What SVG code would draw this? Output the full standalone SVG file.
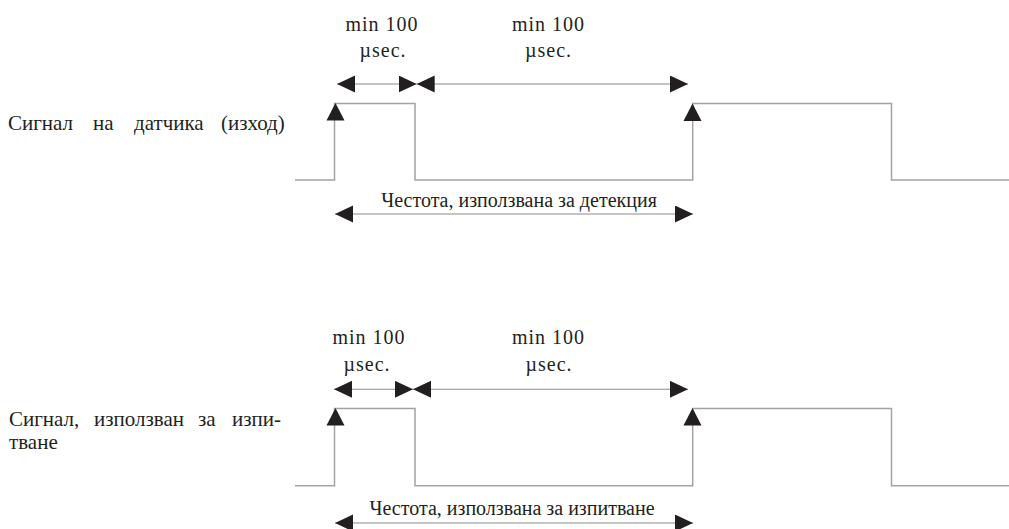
<svg xmlns="http://www.w3.org/2000/svg" width="1009" height="529" viewBox="0 0 1009 529">
<style>
.sig{fill:none;stroke:#a3a3a3;stroke-width:1.5}
.dim{fill:none;stroke:#8c8c8c;stroke-width:1.1}
.lbl{font-family:"Liberation Serif","Times New Roman",serif;font-size:21px;fill:#231f20}
.mn{font-family:"Liberation Serif","Times New Roman",serif;font-size:20px;fill:#231f20;text-anchor:middle;letter-spacing:1px}
.fq{font-family:"Liberation Serif","Times New Roman",serif;font-size:20px;fill:#231f20;text-anchor:middle}
.ah{fill:#231f20}
</style>
<defs>
<marker id="arr" markerUnits="userSpaceOnUse" markerWidth="19" markerHeight="18" refX="18" refY="8.5" orient="auto-start-reverse" viewBox="0 0 19 18">
<path class="ah" d="M0,0 L18,8.5 L0,17 Z"/>
</marker>
<path id="up" class="ah" d="M0,0 L9,17.5 L-9,17.5 Z"/>
</defs>

<g id="label-top">
<text class="lbl" y="130"><tspan x="8">Сигнал</tspan><tspan x="93">на</tspan><tspan x="134">датчика</tspan><tspan x="221">(изход)</tspan></text>
</g>
<g id="label-bottom">
<text class="lbl" y="426"><tspan x="9">Сигнал,</tspan><tspan x="94">използван</tspan><tspan x="198">за</tspan><tspan x="232">изпи-</tspan></text>
<text class="lbl" x="9" y="449">тване</text>
</g>

<g id="signal-top">
<polyline class="sig" points="295,180 334.5,180 334.5,103.5 415,103.5 415,180 692.7,180 692.7,103.5 891.5,103.5 891.5,180 1009,180"/>
<use href="#up" x="335.5" y="103"/>
<use href="#up" x="692.5" y="103.5"/>
</g>
<g id="signal-bottom">
<polyline class="sig" points="295,485.7 334.5,485.7 334.5,408.5 415,408.5 415,485.7 692.7,485.7 692.7,408.5 891.5,408.5 891.5,485.7 1009,485.7"/>
<use href="#up" x="335.5" y="408"/>
<use href="#up" x="692.5" y="408"/>
</g>

<g id="connectors">
<line class="dim" x1="337" y1="84" x2="416.7" y2="84" marker-start="url(#arr)" marker-end="url(#arr)"/>
<line class="dim" x1="416.7" y1="84" x2="688" y2="84" marker-start="url(#arr)" marker-end="url(#arr)"/>
<line class="dim" x1="335" y1="214" x2="693" y2="214" marker-start="url(#arr)" marker-end="url(#arr)"/>
<line class="dim" x1="334" y1="389.3" x2="413" y2="389.3" marker-start="url(#arr)" marker-end="url(#arr)"/>
<line class="dim" x1="413" y1="389.3" x2="688" y2="389.3" marker-start="url(#arr)" marker-end="url(#arr)"/>
<line class="dim" x1="335" y1="523" x2="693" y2="523" marker-start="url(#arr)" marker-end="url(#arr)"/>
</g>

<g id="dim-labels">
<text class="mn" x="382" y="31">min 100</text>
<text class="mn" x="383" y="57">µsec.</text>
<text class="mn" x="548.5" y="31">min 100</text>
<text class="mn" x="548.5" y="57">µsec.</text>
<text class="fq" x="519" y="207">Честота, използвана за детекция</text>
<text class="mn" x="369" y="344">min 100</text>
<text class="mn" x="367" y="371">µsec.</text>
<text class="mn" x="548.5" y="344">min 100</text>
<text class="mn" x="549" y="371">µsec.</text>
<text class="fq" x="512" y="515">Честота, използвана за изпитване</text>
</g>
</svg>
